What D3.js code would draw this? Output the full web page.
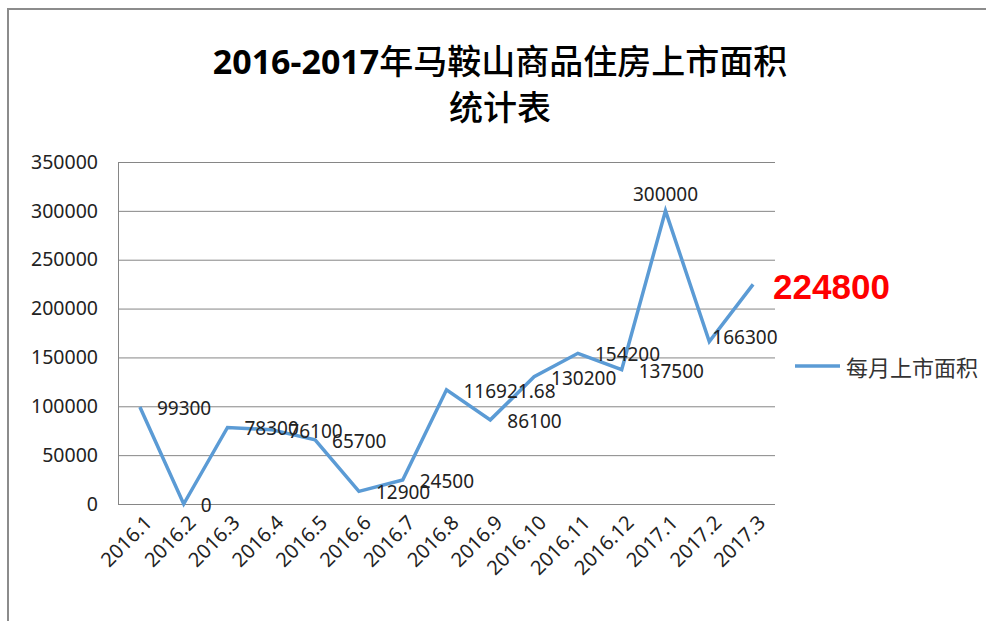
<!DOCTYPE html>
<html>
<head>
<meta charset="utf-8">
<script src="https://cdn.jsdelivr.net/npm/d3@7"></script>
<style>
  body { margin: 0; background: #fff; }
  svg { font-family: "Noto Sans", "Noto Sans CJK SC", sans-serif; }
</style>
</head>
<body>
<div id="chart"></div>
<script>
var months = ["2016.1", "2016.2", "2016.3", "2016.4", "2016.5", "2016.6", "2016.7", "2016.8",
              "2016.9", "2016.10", "2016.11", "2016.12", "2017.1", "2017.2", "2017.3"];
var areas = [99300, 0, 78300, 76100, 65700, 12900, 24500, 116921.68,
             86100, 130200, 154200, 137500, 300000, 166300, 224800];
var yTicks = [0, 50000, 100000, 150000, 200000, 250000, 300000, 350000];
var seriesName = "每月上市面积";

var w = 986, h = 621;
var plotLeft = 118, plotRight = 775, plotTop = 162, plotBottom = 504;

var svg = d3.select("#chart").append("svg")
    .attr("width", w)
    .attr("height", h);

// outer chart border (runs off the picture at right and bottom)
svg.append("rect")
    .attr("x", 8).attr("y", 9)
    .attr("width", 1000).attr("height", 700)
    .attr("fill", "none")
    .attr("stroke", "#8c8c8c")
    .attr("stroke-width", 2);

// title
var title = svg.append("text")
    .attr("x", 500).attr("y", 74)
    .attr("text-anchor", "middle")
    .attr("font-size", 34)
    .attr("fill", "#000");
title.append("tspan").attr("font-weight", "bold").attr("font-family", "Noto Sans").text("2016-2017");
title.append("tspan").attr("font-family", "Noto Sans CJK SC").attr("font-weight", 500).text("年马鞍山商品住房上市面积");
svg.append("text")
    .attr("x", 500).attr("y", 120)
    .attr("text-anchor", "middle")
    .attr("font-size", 34)
    .attr("font-family", "Noto Sans CJK SC")
    .attr("font-weight", 500)
    .text("统计表");

var xScale = d3.scalePoint()
    .domain(months)
    .range([plotLeft, plotRight])
    .padding(0.5);

var yScale = d3.scaleLinear()
    .domain([0, 350000])
    .range([plotBottom, plotTop]);

// gridlines + y axis
var yAxis = d3.axisLeft(yScale)
    .tickValues(yTicks)
    .tickSize(-(plotRight - plotLeft))
    .tickPadding(20)
    .tickFormat(d3.format("d"));

var gy = svg.append("g")
    .attr("transform", "translate(" + plotLeft + ",0)")
    .call(yAxis);
gy.select(".domain").attr("stroke", "#868686");
gy.selectAll(".tick line").attr("stroke", "#868686");
gy.selectAll(".tick text")
    .attr("font-size", 19.5)
    .attr("font-family", "Noto Sans")
    .attr("fill", "#222");

// x axis labels
var xAxis = d3.axisBottom(xScale).tickSize(0).tickPadding(0);
var gx = svg.append("g")
    .attr("transform", "translate(0," + plotBottom + ")")
    .call(xAxis);
gx.select(".domain").remove();
gx.selectAll(".tick text")
    .attr("font-size", 20)
    .attr("font-family", "Noto Sans")
    .attr("fill", "#222")
    .attr("text-anchor", "end")
    .attr("dy", null)
    .attr("y", 0)
    .attr("transform", "translate(13,20) rotate(-45)");

// line
var line = d3.line()
    .x(function(d, i) { return xScale(months[i]); })
    .y(function(d) { return yScale(d); });

svg.append("path")
    .datum(areas)
    .attr("d", line)
    .attr("fill", "none")
    .attr("stroke", "#5b9bd5")
    .attr("stroke-width", 3.5)
    .attr("stroke-linejoin", "miter");

// data labels
svg.append("g").selectAll("text")
    .data(areas)
    .enter()
    .append("text")
    .attr("font-size", 19)
    .attr("font-family", "Noto Sans")
    .attr("fill", "#222")
    .attr("dominant-baseline", "central")
    .each(function(d, i) {
        var el = d3.select(this);
        var x = xScale(months[i]), y = yScale(d);
        if (i === 12) {
            el.attr("x", x).attr("y", y - 17).attr("text-anchor", "middle").text(d);
        } else if (i === 14) {
            el.attr("x", x + 20).attr("y", y + 2)
              .attr("font-size", 35).attr("font-weight", "bold")
              .attr("font-family", "Liberation Sans")
              .attr("fill", "#ff0000").text(d);
        } else if (i === 13) {
            el.attr("x", x + 3).attr("y", y - 5).text(d);
        } else {
            el.attr("x", x + 17).attr("y", y + 1).text(d);
        }
    });

// legend
svg.append("line")
    .attr("x1", 795).attr("x2", 840)
    .attr("y1", 366).attr("y2", 366)
    .attr("stroke", "#5b9bd5")
    .attr("stroke-width", 3.5);
svg.append("text")
    .attr("x", 846).attr("y", 366)
    .attr("dominant-baseline", "central")
    .attr("font-size", 22)
    .attr("font-family", "Noto Sans CJK SC")
    .attr("fill", "#333")
    .text(seriesName);
</script>
</body>
</html>
